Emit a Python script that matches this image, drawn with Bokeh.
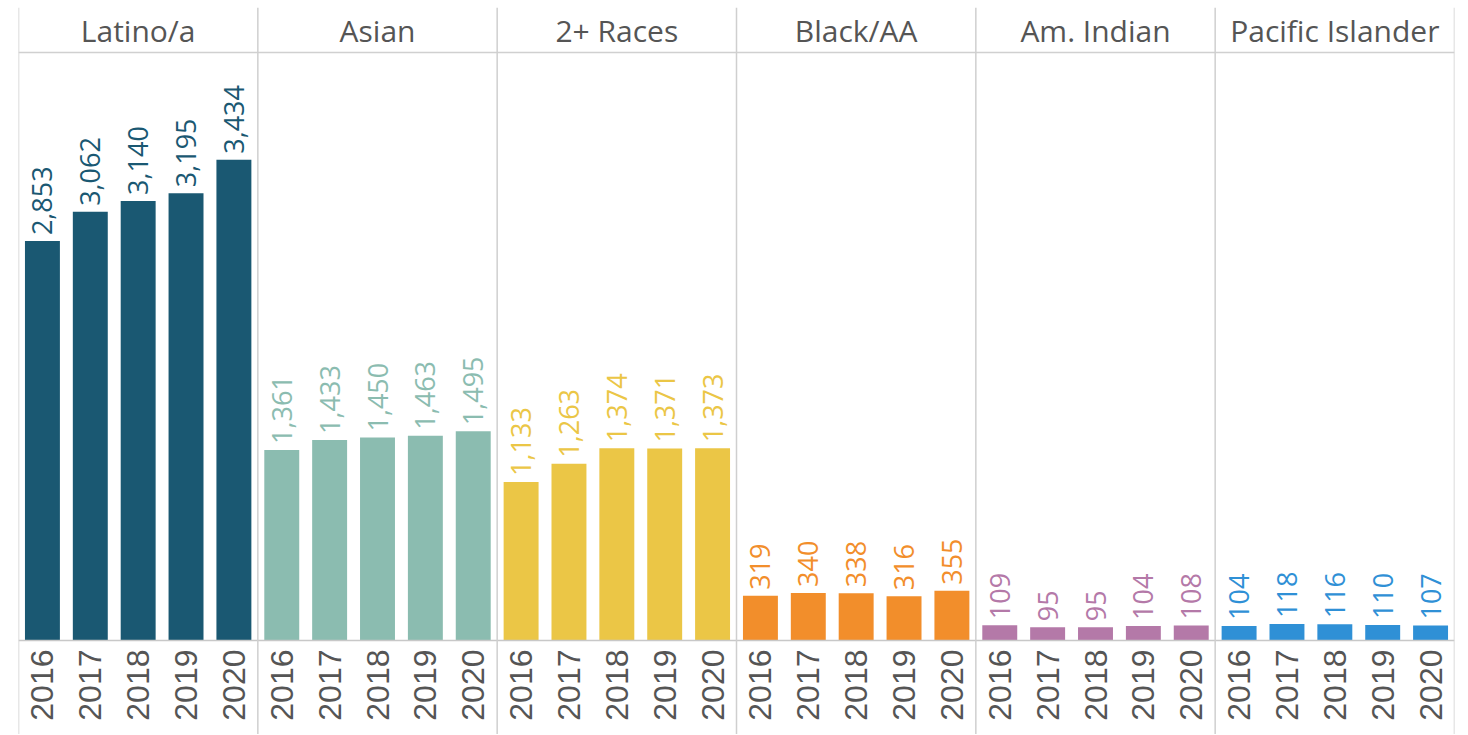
from bokeh.plotting import figure
from bokeh.models import FactorRange, Range1d, ColumnDataSource, Span
from bokeh.core.properties import value
from bokeh.embed import file_html
from bokeh.resources import INLINE
import math

races = ["Latino/a", "Asian", "2+ Races", "Black/AA", "Am. Indian", "Pacific Islander"]
years = ["2016", "2017", "2018", "2019", "2020"]
latino = [2853, 3062, 3140, 3195, 3434]
asian = [1361, 1433, 1450, 1463, 1495]
multi = [1133, 1263, 1374, 1371, 1373]
black = [319, 340, 338, 316, 355]
am_indian = [109, 95, 95, 104, 108]
pacific = [104, 118, 116, 110, 107]
colors = ["#1a5872", "#8bbcb0", "#ebc646", "#f28e2b", "#b479a8", "#2f90d6"]

series = [latino, asian, multi, black, am_indian, pacific]

# layout (pixels)
W, H = 1460, 734
left_pad, right_pad, top_pad = 18, 6, 7
base_px = 640 - top_pad      # baseline pixel from frame top
px_per_unit = 0.14
k = 1 / px_per_unit
frame_h = H - top_pad
y_top = base_px * k
y_bot = -(frame_h - base_px) * k
header_line = y_top - (52 - top_pad) * k

xs, tops, cols, labels, lab_y = [], [], [], [], []
for r, vals, c in zip(races, series, colors):
    for yr, v in zip(years, vals):
        xs.append((r, yr))
        tops.append(v)
        cols.append(c)
        labels.append(f"{v:,}")
        lab_y.append(v + 6 * k)

src = ColumnDataSource(dict(x=xs, top=tops, color=cols, label=labels, ly=lab_y,
                            yl=[yr for _, yr in xs], yy=[-9 * k] * len(xs)))

p = figure(x_range=FactorRange(*xs, factor_padding=0, group_padding=0, range_padding=0),
           y_range=Range1d(y_bot, y_top),
           width=W, height=H, output_backend="svg", toolbar_location=None,
           min_border_left=left_pad, min_border_right=right_pad,
           min_border_top=top_pad, min_border_bottom=0)
p.axis.visible = False
p.grid.visible = False
p.outline_line_color = None
p.background_fill_color = "white"

p.vbar(x="x", top="top", bottom=0, width=0.73, fill_color="color", line_color=None, source=src)

p.text(x="x", y="ly", text="label", text_color="color", angle=math.pi / 2,
       text_align="left", text_baseline="middle",
       text_font=value("Open Sans"), text_font_size=value("27px"), source=src)

p.text(x="x", y="yy", text="yl", text_color="#555555", angle=math.pi / 2,
       text_align="right", text_baseline="middle",
       text_font=value("Liberation Sans"), text_font_size=value("32px"), source=src)

hsrc = ColumnDataSource(dict(x=races, y=[y_top - (30 - top_pad) * k] * len(races)))
p.text(x="x", y="y", text="x", text_color="#555555", text_align="center",
       text_baseline="middle", text_font=value("Open Sans"),
       text_font_size=value("30px"), source=hsrc)

p.add_layout(Span(location=0, dimension="width", line_color="#c8c8c8", line_width=1.5))
p.add_layout(Span(location=header_line, dimension="width", line_color="#d0d0d0", line_width=1.5))
for i in range(len(races) + 1):
    p.add_layout(Span(location=i * len(years), dimension="height",
                      line_color="#cfcfcf", line_width=1.5))

open("out.html", "w").write(file_html(p, INLINE))
